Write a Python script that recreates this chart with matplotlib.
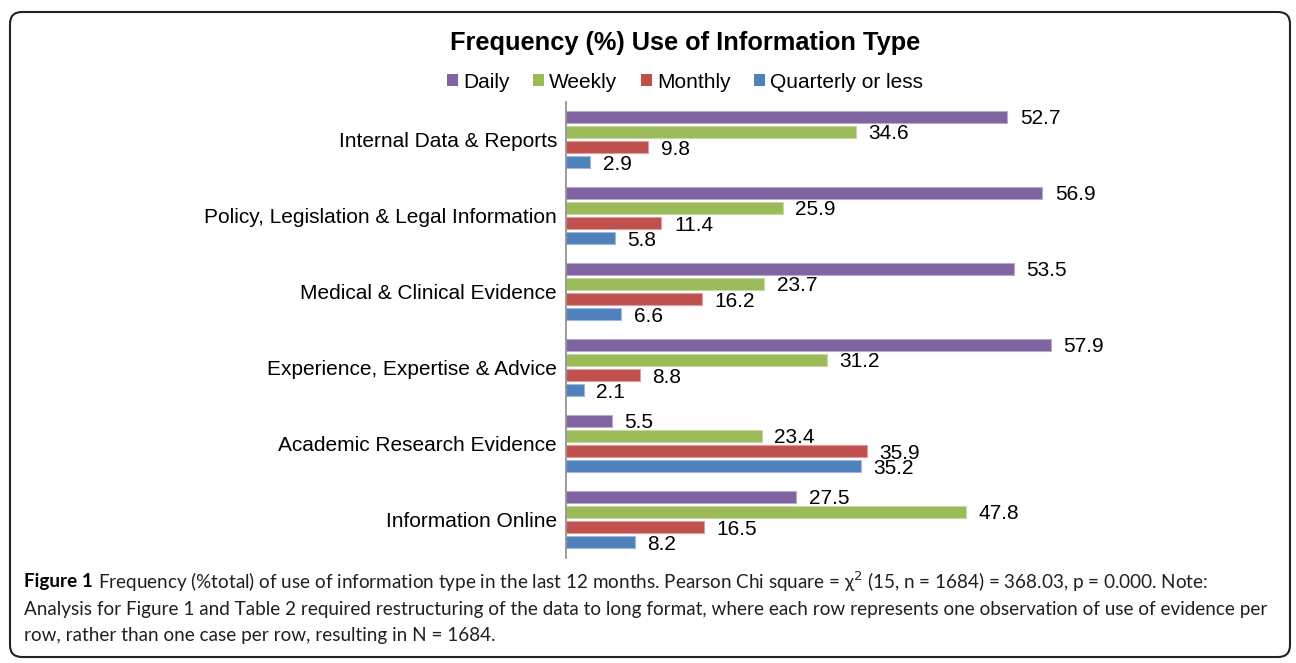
import matplotlib
matplotlib.use('Agg')
import matplotlib.pyplot as plt
from matplotlib.patches import Patch, FancyBboxPatch
import matplotlib.colors as mcolors
import numpy as np

# data
categories = ['Internal Data & Reports',
              'Policy, Legislation & Legal Information',
              'Medical & Clinical Evidence',
              'Experience, Expertise & Advice',
              'Academic Research Evidence',
              'Information Online']
series_names = ['Daily', 'Weekly', 'Monthly', 'Quarterly or less']
daily = [52.7, 56.9, 53.5, 57.9, 5.5, 27.5]
weekly = [34.6, 25.9, 23.7, 31.2, 23.4, 47.8]
monthly = [9.8, 11.4, 16.2, 8.8, 35.9, 16.5]
quarterly = [2.9, 5.8, 6.6, 2.1, 35.2, 8.2]
colors = ['#8064A2', '#9BBB59', '#C0504D', '#4F81BD']

title = 'Frequency (%) Use of Information Type'
cap_bold = 'Figure 1'
cap_lines = [
    'Frequency (%total) of use of information type in the last 12 months. Pearson Chi square = χ$^2$ (15, n = 1684) = 368.03, p = 0.000. Note:',
    'Analysis for Figure 1 and Table 2 required restructuring of the data to long format, where each row represents one observation of use of evidence per',
    'row, rather than one case per row, resulting in N = 1684.',
]

plt.rcParams['font.family'] = ['Liberation Sans', 'DejaVu Sans']
cap_font = ['Lato', 'DejaVu Sans']

W, H = 1296, 663
fig = plt.figure(figsize=(W/100, H/100), dpi=100)
ax = fig.add_axes([566/W, 1-557.5/H, 586/W, 456/H])

series = [daily, weekly, monthly, quarterly]
y = np.arange(len(categories))
step = 0.2
for i, vals in enumerate(series):
    edge = mcolors.to_rgb(colors[i])
    edge = [c + (1-c)*0.45 for c in edge]
    pos = y + (i-1.5)*step
    ax.barh(pos, vals, height=0.155, color=colors[i], edgecolor=edge, linewidth=0.8)
    for p, v in zip(pos, vals):
        ax.annotate(f'{v:.1f}', (v, p), xytext=(9, -1.5), textcoords='offset points',
                    ha='left', va='center', fontsize=15)

ax.set_xlim(0, 70)
ax.set_ylim(5.5, -0.5)
ax.set_yticks(y)
ax.set_yticklabels(categories, fontsize=15)
ax.tick_params(axis='y', length=0, pad=6.5)
ax.set_xticks([])
for s in ['top', 'right', 'bottom']:
    ax.spines[s].set_visible(False)
ax.spines['left'].set_color('#8c8c8c')
ax.spines['left'].set_linewidth(1.2)

fig.text(685/W, 1-43/H, title, ha='center', va='center', fontsize=18.3, weight='bold')

handles = [Patch(facecolor=c) for c in colors]
fig.legend(handles, series_names, loc='center', bbox_to_anchor=(685/W, 1-82/H), ncol=4,
           frameon=False, fontsize=15, handlelength=0.55, handleheight=0.55,
           handletextpad=0.25, columnspacing=1.1, borderpad=0)

# caption
r = fig.canvas.get_renderer()
cap_size = 13.6
cap_y = [582, 609, 636]
t = fig.text(24/W, 1-cap_y[0]/H, cap_bold, fontsize=cap_size, weight='bold',
             family=cap_font, va='center')
bb = t.get_window_extent(r)
fig.text((bb.x1 + 5)/W, 1-cap_y[0]/H, cap_lines[0], fontsize=cap_size,
         family=cap_font, va='center', color='#231f20')
for line, yy in zip(cap_lines[1:], cap_y[1:]):
    fig.text(24/W, 1-yy/H, line, fontsize=cap_size, family=cap_font, va='center',
             color='#231f20')

frame = FancyBboxPatch((0.10, 0.06), 12.80, 6.45, boxstyle='round,pad=0,rounding_size=0.12',
                       transform=fig.dpi_scale_trans, facecolor='none',
                       edgecolor='#222222', linewidth=1.5)
fig.add_artist(frame)

fig.savefig('out.png', dpi=100)
